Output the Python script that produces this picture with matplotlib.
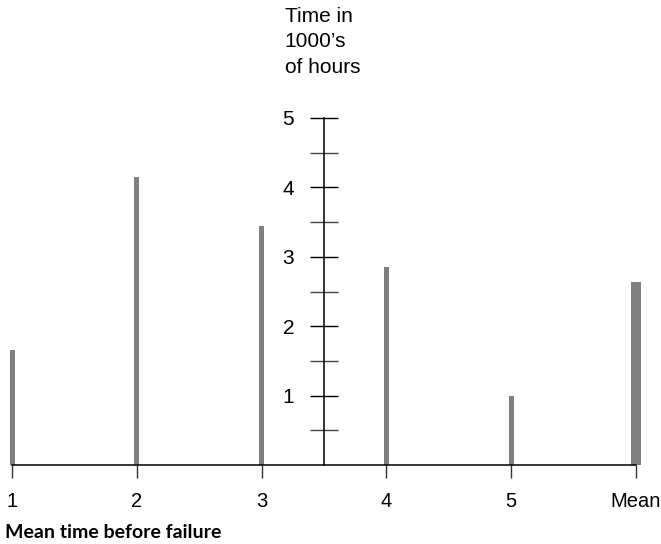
import numpy as np
import matplotlib
matplotlib.use("Agg")
import matplotlib.pyplot as plt
from matplotlib.ticker import FixedLocator

# data
categories = ["1", "2", "3", "4", "5", "Mean"]
hours = [1.65, 4.15, 3.44, 2.86, 0.99, 2.63]
bar_widths = [0.04, 0.04, 0.04, 0.04, 0.04, 0.076]
y_major = [1, 2, 3, 4, 5]
y_minor = [0.5, 1.5, 2.5, 3.5, 4.5]

plt.rcParams['font.family'] = ['Liberation Sans', 'DejaVu Sans']

fig = plt.figure(figsize=(6.61, 5.44), dpi=100)
ax = fig.add_axes([0, 0, 1, 1])

x = np.arange(1, len(categories) + 1)
ax.bar(x, hours, width=bar_widths, color="#808080", linewidth=0, zorder=1)

ax.set_xlim(0.9038, 6.2003)
ax.set_ylim(-1.138, 6.700)

for s in ["top", "right"]:
    ax.spines[s].set_visible(False)
ax.spines["bottom"].set_position(("data", 0))
ax.spines["bottom"].set_bounds(1, 6)
ax.spines["left"].set_position(("data", 3.5))
ax.spines["left"].set_bounds(0, 5)
for s in ["bottom", "left"]:
    ax.spines[s].set_linewidth(1.1)
    ax.spines[s].set_zorder(3)

ax.set_xticks(x)
ax.set_xticklabels(categories)
ax.tick_params(axis="x", direction="out", length=9.4, width=1, pad=10,
               labelsize=14.5, color="#333333")

ax.yaxis.set_major_locator(FixedLocator(y_major))
ax.yaxis.set_minor_locator(FixedLocator(y_minor))
ax.tick_params(axis="y", which="both", direction="inout", length=20, width=1,
               pad=11.5, labelsize=15)
ax.tick_params(axis="y", which="minor", color="#444444")

ax.text(3.185, 6.60, "Time in\n1000\u2019s\nof hours", fontsize=15,
        ha="left", va="top", linespacing=1.42)

fig.text(0.007, 0.011, "Mean time before failure", fontsize=14,
         fontweight="bold", family=["Lato", "DejaVu Sans"], ha="left", va="baseline")

fig.savefig("out.png", dpi=100)
plt.close(fig)
